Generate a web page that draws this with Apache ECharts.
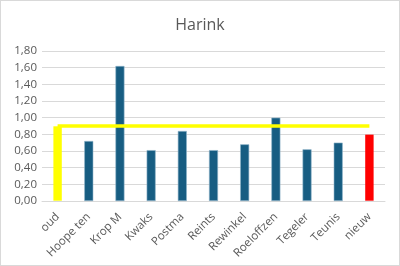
<!DOCTYPE html>
<html>
<head>
<meta charset="utf-8">
<script src="https://cdn.jsdelivr.net/npm/echarts@6/dist/echarts.min.js"></script>
<style>
html,body{margin:0;padding:0;background:#fff;}
#c{width:400px;height:266px;box-sizing:border-box;border:1px solid #d9d9d9;}
</style>
</head>
<body>
<div id="c"></div>
<script>
const title = "Harink";
const categories = ["oud","Hoope ten","Krop M","Kwaks","Postma","Reints","Rewinkel","Roeloffzen","Tegeler","Teunis","nieuw"];
const values = [0.90,0.72,1.62,0.61,0.84,0.61,0.68,1.00,0.62,0.70,0.80];
const refLine = [0.90,0.90,0.90,0.90,0.90,0.90,0.90,0.90,0.90,0.90,0.90];
const yTicks = {min:0, max:1.8, interval:0.2};

const BLUE = '#175d82', YELLOW = '#ffff00', RED = '#ff0000';
const FONT = 'Open Sans, Liberation Sans, sans-serif';
const chart = echarts.init(document.getElementById('c'), null, {renderer:'canvas'});
chart.setOption({
  animation:false,
  title:{text:title, left:'center', top:11, textStyle:{fontFamily:FONT, fontSize:16, fontWeight:'normal', color:'#595959'}},
  grid:{left:41, right:14, top:50, bottom:64, containLabel:false},
  xAxis:{type:'category', data:categories,
    axisLine:{lineStyle:{color:'#d9d9d9'}}, axisTick:{show:false},
    axisLabel:{rotate:45, interval:0, color:'#595959', fontSize:11.5, fontFamily:FONT, margin:14}},
  yAxis:{type:'value', min:yTicks.min, max:yTicks.max, interval:yTicks.interval,
    axisLine:{show:false}, axisTick:{show:false},
    splitLine:{lineStyle:{color:'#d9d9d9', width:1}},
    axisLabel:{color:'#595959', fontSize:11.5, fontFamily:FONT, margin:5,
      formatter:v=>v.toFixed(2).replace('.',',')}},
  series:[
    {type:'bar', barWidth:9, z:2,
     data:values.map((v,i)=>({value:v, itemStyle:{color: i===0?YELLOW:(i===values.length-1?RED:BLUE), borderColor: (i===0||i===values.length-1)?'transparent':'#8fb4c9', borderWidth:0.6}}))},
    {type:'line', data:refLine, z:3, symbol:'none', lineStyle:{color:YELLOW, width:3.5}, silent:true}
  ]
});
</script>
</body>
</html>
